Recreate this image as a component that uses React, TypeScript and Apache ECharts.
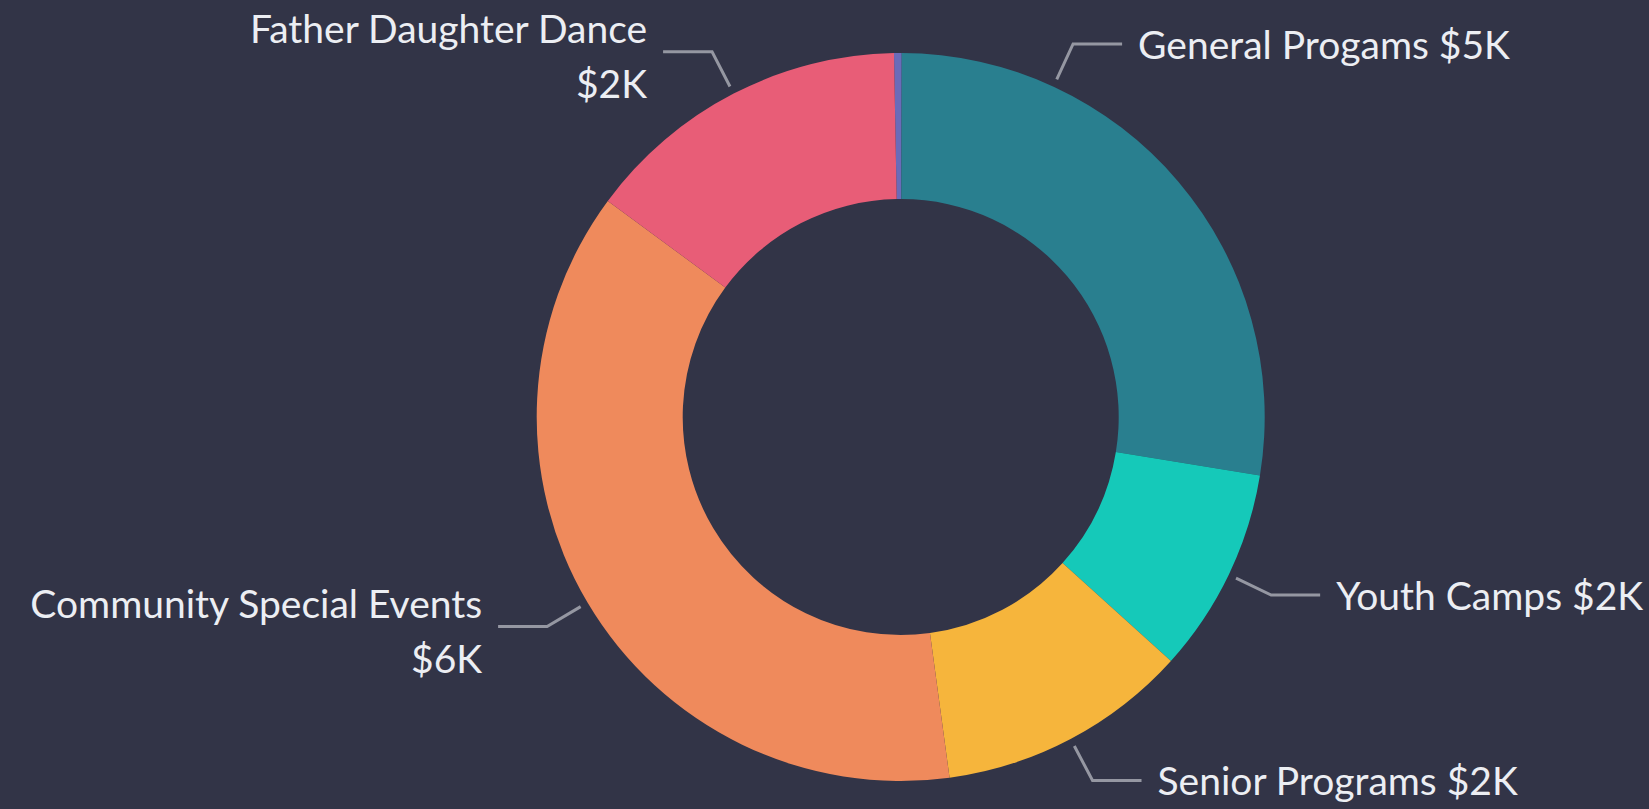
import React, { useEffect, useRef } from "react";
import * as echarts from "echarts";

// ---- data ----
const categories = [
  "Other",
  "General Progams",
  "Youth Camps",
  "Senior Programs",
  "Community Special Events",
  "Father Daughter Dance",
];
const values = [57, 4625, 1531, 1877, 6260, 2451];
const sliceColors = ["#6b6bb9", "#297f8f", "#15c9b9", "#f6b53c", "#ef8a5c", "#e85d77"];
const wrappedLabelNames = ["Community Special Events", "Father Daughter Dance"];
const hiddenLabelNames = ["Other"];

// ---- layout ----
const CENTER: [number, number] = [900.7, 417];
const R_OUT = 364;
const R_IN = 218;
const LINE_GAP = 8;
const LEN1 = 47;
const LEN2 = 49;
const LABEL_DIST = 16;
const WRAPPED_Y_SHIFT = 4;
const GENERAL_NAME = "General Progams";
const GENERAL_LINE_ANGLE = 24.8; // degrees clockwise from 12 o'clock

const fmtK = (v: number) => "$" + Math.round(v / 1000) + "K";

export default function App() {
  const ref = useRef<HTMLDivElement>(null);
  useEffect(() => {
    if (!ref.current) return;
    const chart = echarts.init(ref.current, null, { renderer: "svg" });
    const generalIndex = categories.indexOf(GENERAL_NAME);
    const data = categories.map((name, i) => {
      const item: any = {
        name,
        value: values[i],
        itemStyle: { color: sliceColors[i] },
      };
      if (hiddenLabelNames.includes(name)) {
        item.label = { show: false };
        item.labelLine = { show: false };
      } else if (wrappedLabelNames.includes(name)) {
        item.label = { formatter: (p: any) => p.name + "\n" + fmtK(p.value) };
      }
      return item;
    });

    // build a leader line + label anchor from a unit direction (nx, ny)
    const leader = (nx: number, ny: number, yShift: number) => {
      const [cx, cy] = CENTER;
      const side = nx < 0 ? -1 : 1;
      const p0 = [cx + nx * (R_OUT + LINE_GAP), cy + ny * (R_OUT + LINE_GAP)];
      const p1 = [cx + nx * (R_OUT + LEN1), cy + ny * (R_OUT + LEN1)];
      const p2 = [p1[0] + side * LEN2, p1[1]];
      return {
        x: p2[0] + side * LABEL_DIST,
        y: p2[1] + yShift,
        align: side < 0 ? "right" : "left",
        verticalAlign: "middle",
        labelLinePoints: [p0, p1, p2],
      };
    };

    chart.setOption({
      animation: false,
      backgroundColor: "#323447",
      series: [
        {
          type: "pie",
          center: CENTER,
          radius: [R_IN, R_OUT],
          startAngle: 91.06,
          clockwise: true,
          avoidLabelOverlap: true,
          data,
          itemStyle: { borderWidth: 0 },
          label: {
            show: true,
            position: "outside",
            formatter: (p: any) => p.name + " " + fmtK(p.value),
            color: "#eceef3",
            fontFamily: "Lato",
            fontSize: 39,
            lineHeight: 55,
            overflow: "none",
            bleedMargin: 0,
            distanceToLabelLine: LABEL_DIST,
          },
          labelLine: {
            show: true,
            length: LEN1,
            length2: LEN2,
            smooth: false,
            lineStyle: { color: "#9597a2", width: 3 },
          },
          emphasis: { disabled: true },
          labelLayout: (params: any) => {
            if (params.dataIndex === generalIndex) {
              const a = (GENERAL_LINE_ANGLE * Math.PI) / 180;
              return leader(Math.sin(a), -Math.cos(a), 0);
            }
            const pts = params.labelLinePoints;
            if (!pts || !pts.length) return {};
            const [cx, cy] = CENTER;
            const dx = pts[0][0] - cx;
            const dy = pts[0][1] - cy;
            const d = Math.hypot(dx, dy) || 1;
            const wrapped = wrappedLabelNames.includes(categories[params.dataIndex]);
            return leader(dx / d, dy / d, wrapped ? WRAPPED_Y_SHIFT : 0);
          },
        },
      ],
    });
    return () => chart.dispose();
  }, []);
  return (
    <div
      ref={ref}
      style={{ position: "fixed", left: 0, top: 0, width: 1649, height: 809 }}
    />
  );
}
